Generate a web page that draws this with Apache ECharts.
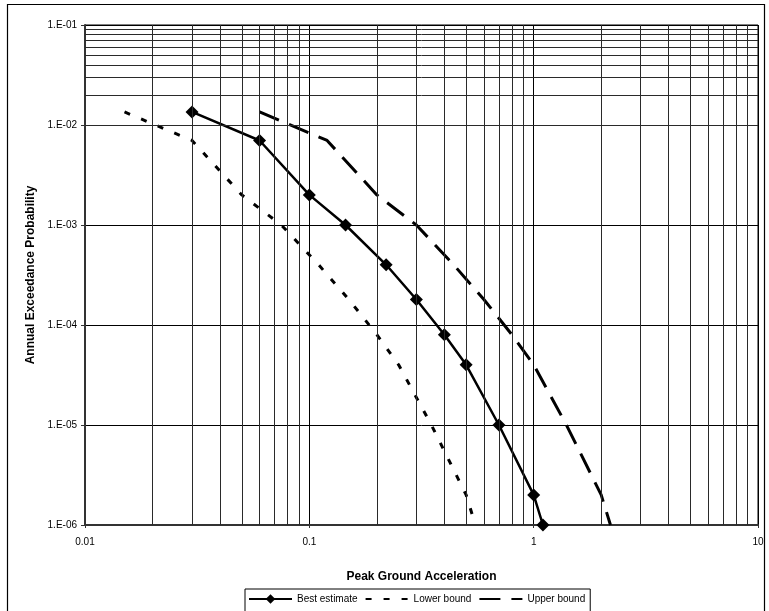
<!DOCTYPE html>
<html>
<head>
<meta charset="utf-8">
<title>Seismic hazard curve</title>
<script src="https://cdn.jsdelivr.net/npm/echarts@6/dist/echarts.min.js"></script>
<style>
  html, body { margin: 0; padding: 0; background: #fff; }
  #chart { width: 769px; height: 611px; }
</style>
</head>
<body>
<div id="chart"></div>
<script>
// Hazard curve: peak ground acceleration (g) vs annual exceedance probability
const bestPga   = [0.03, 0.06, 0.1, 0.145, 0.22, 0.3, 0.4, 0.5, 0.7, 1.0, 1.1];
const lowerPga  = [0.015, 0.03, 0.05, 0.075, 0.11, 0.15, 0.2, 0.25, 0.35, 0.5, 0.55];
const upperPga  = [0.06, 0.12, 0.2, 0.3, 0.44, 0.6, 0.8, 1.0, 1.4, 2.0, 2.2];
const exceedance = [1.35e-2, 7e-3, 2e-3, 1e-3, 4e-4, 1.8e-4, 8e-5, 4e-5, 1e-5, 2e-6, 1e-6];

const seriesNames = ['Best estimate', 'Lower bound', 'Upper bound'];
const xRange = [0.01, 10];
const yRange = [1e-6, 1e-1];

const FONT = "'Liberation Sans', Arial, sans-serif";

function pairs(xs, ys) { return xs.map((x, i) => [x, ys[i]]); }

// minor gridlines at 2..9 times each power of ten
function minorValues(lo, hi) {
  const out = [];
  for (let d = lo; d < hi * 0.999; d *= 10) {
    for (let m = 2; m <= 9; m++) out.push(+(m * d).toPrecision(6));
  }
  return out;
}

const minorLines = []
  .concat(minorValues(xRange[0], xRange[1]).map(v => ({ xAxis: v })))
  .concat(minorValues(yRange[0], yRange[1]).map(v => ({ yAxis: v })));

const chart = echarts.init(document.getElementById('chart'), null, { renderer: 'canvas' });

chart.setOption({
  animation: false,
  backgroundColor: '#fff',
  textStyle: { fontFamily: FONT },
  graphic: [{
    type: 'rect',
    shape: { x: 7.5, y: 4.5, width: 757, height: 630 },
    style: { fill: 'none', stroke: '#000', lineWidth: 1.2 },
    silent: true, z: 0
  }],
  grid: { left: 85, right: 11, top: 25, bottom: 86, containLabel: false,
          show: true, borderColor: '#000', borderWidth: 1 },
  legend: {
    data: seriesNames,
    top: 589,
    left: 245,
    orient: 'horizontal',
    itemWidth: 43,
    itemHeight: 12,
    itemGap: 7,
    padding: [5, 5, 30, 3],
    borderColor: '#000',
    borderWidth: 1,
    textStyle: { fontSize: 10, color: '#000', fontFamily: FONT }
  },
  xAxis: {
    type: 'log',
    logBase: 10,
    min: xRange[0],
    max: xRange[1],
    name: 'Peak Ground Acceleration',
    nameLocation: 'middle',
    nameGap: 46,
    nameTextStyle: { fontSize: 12, fontWeight: 'bold', color: '#000', fontFamily: FONT },
    axisLine: { show: true, lineStyle: { color: '#333', width: 2 } },
    axisTick: { show: true, length: 3, lineStyle: { color: '#333' } },
    axisLabel: { fontSize: 10, color: '#000', margin: 12, fontFamily: FONT,
                 formatter: v => String(+(+v).toPrecision(6)) },
    splitLine: { show: true, lineStyle: { color: '#000', width: 1 } }
  },
  yAxis: {
    type: 'log',
    logBase: 10,
    min: yRange[0],
    max: yRange[1],
    name: 'Annual Exceedance Probability',
    nameLocation: 'middle',
    nameGap: 48,
    nameTextStyle: { fontSize: 12, fontWeight: 'bold', color: '#000', fontFamily: FONT },
    axisLine: { show: true, lineStyle: { color: '#333', width: 2 } },
    axisTick: { show: true, length: 4, lineStyle: { color: '#333' } },
    axisLabel: { fontSize: 10, color: '#000', margin: 8, fontFamily: FONT,
                 formatter: v => {
                   const e = Math.round(Math.log10(v));
                   return '1.E' + (e < 0 ? '-' : '+') + String(Math.abs(e)).padStart(2, '0');
                 } },
    splitLine: { show: true, lineStyle: { color: '#000', width: 1 } }
  },
  series: [
    {
      name: 'grid-minor',
      type: 'line',
      data: [],
      silent: true,
      z: 1,
      markLine: {
        silent: true,
        symbol: 'none',
        animation: false,
        label: { show: false },
        lineStyle: { type: 'solid', color: '#2a2a2a', width: 1 },
        emphasis: { disabled: true },
        data: minorLines
      }
    },
    {
      name: seriesNames[1],
      type: 'line',
      data: pairs(lowerPga, exceedance),
      showSymbol: false,
      symbol: 'circle',
      symbolSize: 1,
      z: 3,
      lineStyle: { color: '#000', width: 3, type: [6, 12], cap: 'butt' },
      itemStyle: { color: 'rgba(0,0,0,0)' }
    },
    {
      name: seriesNames[2],
      type: 'line',
      data: pairs(upperPga, exceedance),
      showSymbol: false,
      symbol: 'circle',
      symbolSize: 1,
      z: 3,
      lineStyle: { color: '#000', width: 3, type: [21, 11], cap: 'butt' },
      itemStyle: { color: 'rgba(0,0,0,0)' }
    },
    {
      name: seriesNames[0],
      type: 'line',
      data: pairs(bestPga, exceedance),
      symbol: 'diamond',
      symbolSize: 13,
      z: 4,
      lineStyle: { color: '#000', width: 2.5 },
      itemStyle: { color: '#000', borderWidth: 0 }
    }
  ]
});
</script>
</body>
</html>
